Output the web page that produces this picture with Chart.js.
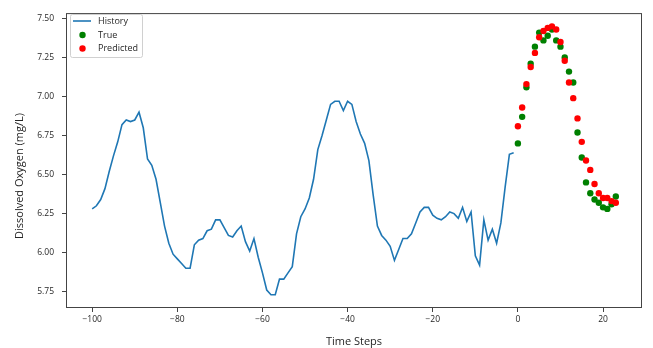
<!DOCTYPE html>
<html>
<head>
<meta charset="utf-8">
<script src="https://cdn.jsdelivr.net/npm/chart.js@4.4.1/dist/chart.umd.min.js"></script>
<style>
  html, body { margin: 0; padding: 0; background: #fff; }
</style>
</head>
<body>
<canvas id="grafico" width="653" height="348"></canvas>
<script>
// time steps before the forecast: -100 .. -1
const historySteps = Array.from({ length: 100 }, (_, i) => i - 100);
const historyValues = [
  6.28, 6.30, 6.34, 6.41, 6.52, 6.62, 6.71, 6.82, 6.85, 6.84,
  6.85, 6.90, 6.80, 6.60, 6.56, 6.47, 6.32, 6.17, 6.06, 5.99,
  5.96, 5.93, 5.90, 5.90, 6.05, 6.08, 6.09, 6.14, 6.15, 6.21,
  6.21, 6.16, 6.11, 6.10, 6.14, 6.17, 6.07, 6.01, 6.09, 5.97,
  5.87, 5.76, 5.73, 5.73, 5.83, 5.83, 5.87, 5.91, 6.12, 6.23,
  6.28, 6.35, 6.47, 6.66, 6.75, 6.85, 6.95, 6.97, 6.97, 6.91,
  6.97, 6.95, 6.84, 6.76, 6.70, 6.59, 6.37, 6.17, 6.11, 6.08,
  6.04, 5.95, 6.02, 6.09, 6.09, 6.12, 6.19, 6.26, 6.29, 6.29,
  6.24, 6.22, 6.21, 6.23, 6.26, 6.25, 6.22, 6.29, 6.20, 6.26,
  5.98, 5.92, 6.21, 6.08, 6.15, 6.06, 6.19, 6.42, 6.63, 6.64
];

// forecast horizon: 0 .. 23
const futureSteps = Array.from({ length: 24 }, (_, i) => i);
const trueValues = [
  6.70, 6.87, 7.06, 7.21, 7.32, 7.41, 7.36, 7.39, 7.43, 7.36,
  7.32, 7.25, 7.16, 7.09, 6.77, 6.61, 6.45, 6.38, 6.34, 6.32,
  6.29, 6.28, 6.31, 6.36
];
const predictedValues = [
  6.81, 6.93, 7.08, 7.19, 7.28, 7.38, 7.42, 7.44, 7.45, 7.43,
  7.35, 7.23, 7.09, 6.99, 6.86, 6.71, 6.59, 6.53, 6.44, 6.38,
  6.35, 6.35, 6.33, 6.32
];

const xTicks = [-100, -80, -60, -40, -20, 0, 20];
const yTicks = [5.75, 6.00, 6.25, 6.50, 6.75, 7.00, 7.25, 7.50];

const toPoints = (xs, ys) => xs.map((x, i) => ({ x: x, y: ys[i] }));

const tickFont = { family: 'Open Sans', size: 8.5 };
const textColor = '#262626';
const axisColor = '#444';

// frame round the plot, legend in upper left, y title
const extras = {
  id: 'extras',
  afterDraw(chart) {
    const ctx = chart.ctx;
    const a = chart.chartArea;
    ctx.save();
    ctx.strokeStyle = axisColor;
    ctx.lineWidth = 1;
    ctx.strokeRect(a.left + 0.5, a.top + 0.5, a.right - a.left - 1, a.bottom - a.top - 1);

    // legend
    ctx.beginPath();
    ctx.roundRect(70.5, 14.5, 72, 43, 2);
    ctx.fillStyle = 'rgba(255,255,255,0.8)';
    ctx.fill();
    ctx.strokeStyle = '#d0d0d0';
    ctx.stroke();

    ctx.font = '9px "Open Sans"';
    ctx.textBaseline = 'middle';
    ctx.textAlign = 'left';
    const rows = [21, 35, 48.5];
    chart.data.datasets.forEach((ds, i) => {
      const y = rows[i];
      if (ds.showLine) {
        ctx.strokeStyle = ds.borderColor;
        ctx.lineWidth = ds.borderWidth;
        ctx.beginPath();
        ctx.moveTo(73, y);
        ctx.lineTo(91, y);
        ctx.stroke();
      } else {
        ctx.fillStyle = ds.pointBackgroundColor;
        ctx.beginPath();
        ctx.arc(82.5, y, ds.pointRadius, 0, Math.PI * 2);
        ctx.fill();
      }
      ctx.fillStyle = textColor;
      ctx.fillText(ds.label, 98, y);
    });

    // y axis title
    ctx.translate(20, 176);
    ctx.rotate(-Math.PI / 2);
    ctx.textAlign = 'center';
    ctx.font = '11px "Open Sans"';
    ctx.fillStyle = textColor;
    ctx.fillText('Dissolved Oxygen (mg/L)', 0, 0);
    ctx.restore();
  }
};

new Chart(document.getElementById('grafico'), {
  type: 'scatter',
  data: {
    datasets: [
      {
        label: 'History',
        data: toPoints(historySteps, historyValues),
        showLine: true,
        borderColor: '#1f77b4',
        borderWidth: 1.6,
        pointRadius: 0,
        tension: 0,
        order: 3
      },
      {
        label: 'True',
        data: toPoints(futureSteps, trueValues),
        showLine: false,
        pointRadius: 3.2,
        pointBorderWidth: 0,
        pointBackgroundColor: '#008000',
        order: 2
      },
      {
        label: 'Predicted',
        data: toPoints(futureSteps, predictedValues),
        showLine: false,
        pointRadius: 3.2,
        pointBorderWidth: 0,
        pointBackgroundColor: '#ff0000',
        order: 1
      }
    ]
  },
  options: {
    responsive: false,
    animation: false,
    devicePixelRatio: 1,
    layout: { padding: { top: 9, right: 11, left: 0, bottom: 0 } },
    plugins: {
      legend: { display: false },
      tooltip: { enabled: false }
    },
    scales: {
      x: {
        type: 'linear',
        min: -106.15,
        max: 29.15,
        afterFit: (s) => { s.height = 40; },
        afterBuildTicks: (s) => { s.ticks = xTicks.map(v => ({ value: v })); },
        grid: { drawOnChartArea: false, drawTicks: true, tickLength: 4, color: axisColor },
        border: { display: false },
        ticks: {
          font: tickFont,
          color: textColor,
          padding: 2,
          maxRotation: 0,
          callback: (v) => (v < 0 ? '\u2212' + Math.abs(v) : String(v))
        },
        title: {
          display: true,
          text: 'Time Steps',
          font: { family: 'Open Sans', size: 11 },
          color: textColor,
          padding: { top: 0, bottom: 0 }
        }
      },
      y: {
        min: 5.645,
        max: 7.535,
        afterFit: (s) => { s.width = 66; },
        afterBuildTicks: (s) => { s.ticks = yTicks.map(v => ({ value: v })); },
        grid: { drawOnChartArea: false, drawTicks: true, tickLength: 4, color: axisColor },
        border: { display: false },
        ticks: {
          font: tickFont,
          color: textColor,
          padding: 8,
          callback: (v) => v.toFixed(2)
        }
      }
    }
  },
  plugins: [extras]
});
</script>
</body>
</html>
